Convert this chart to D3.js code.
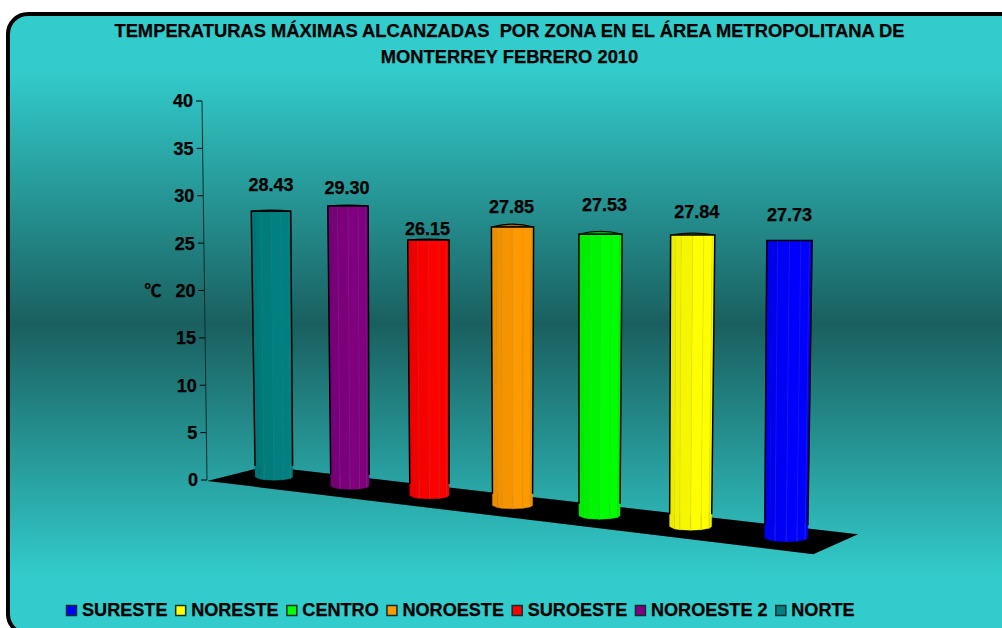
<!DOCTYPE html>
<meta charset="utf-8">
<style>
html, body { margin: 0; padding: 0; background: #fff; overflow: hidden; }
svg { display: block; }
text { font-family: "Liberation Sans", Arial, sans-serif; font-weight: bold; fill: #000; stroke: #000; stroke-width: 0.25px; }
.title { font-size: 18.35px; text-anchor: middle; white-space: pre; }
.axis text, .value { font-size: 18px; }
.legend text { font-size: 18.1px; }
.value { text-anchor: middle; }
</style>
<body>
<script src="https://d3js.org/d3.v7.min.js"></script>
<script>

// chart values, bars run back to front
var zones = ["NORTE", "NOROESTE 2", "SUROESTE", "NOROESTE", "CENTRO", "NORESTE", "SURESTE"];
var temps = [28.43, 29.30, 26.15, 27.85, 27.53, 27.84, 27.73];
var yTicks = [0, 5, 10, 15, 20, 25, 30, 35, 40];
var titleLines = ["TEMPERATURAS MÁXIMAS ALCANZADAS  POR ZONA EN EL ÁREA METROPOLITANA DE", "MONTERREY FEBRERO 2010"];

// styles and small layout nudges
var barColors = ["#008080", "#800080", "#FF0000", "#FF9900", "#00FF00", "#FFFF00", "#0000FF"];
var labelLift = [26, 18, 11, 20, 29, 23, 26];
var labelShift = [0, -1, -1, -1, 4, 4, 0];
var lidRise = [1, 1, 1, 3, 3, 2, 0];
var facetEdges = [0, 0.12, 0.24, 0.5, 0.75, 0.94, 1];
var facetDark = [0.22, 0.16, 0.1, 0, 0, 0.12];

var width = 1002, height = 628;

var svg = d3.select("body").append("svg")
    .attr("width", width)
    .attr("height", height);

// background gradient, light - dark - light
var grad = svg.append("defs").append("linearGradient")
    .attr("id", "bg")
    .attr("x1", 0).attr("y1", 0).attr("x2", 0).attr("y2", 1);
grad.append("stop").attr("offset", "0%").attr("stop-color", "#33CCCC");
grad.append("stop").attr("offset", "9%").attr("stop-color", "#33CCCC");
grad.append("stop").attr("offset", "50%").attr("stop-color", "#1A5F5F");
grad.append("stop").attr("offset", "91%").attr("stop-color", "#33CCCC");
grad.append("stop").attr("offset", "100%").attr("stop-color", "#33CCCC");

svg.append("rect")
    .attr("x", 8).attr("y", 14)
    .attr("width", 1040).attr("height", 620)
    .attr("rx", 20).attr("ry", 20)
    .attr("fill", "url(#bg)")
    .attr("stroke", "#000")
    .attr("stroke-width", 4);

// title
svg.selectAll(".title")
    .data(titleLines)
  .enter().append("text")
    .attr("class", "title")
    .attr("x", 509.5)
    .attr("y", function(d, i) { return 37 + i * 26; })
    .text(function(d) { return d; });

// value scale
var y = d3.scaleLinear().domain([0, 40]).range([480, 101]);

// the axis leans a little, top is further left
var axisLean = d3.scaleLinear().domain([0, 40]).range([207, 202]);

// floor perspective: i is the bar position, d the depth (1 front, -1 back)
var persp = -0.02136;
function project(i, d) {
  var w = 1 + persp * i;
  return [(271 + 69.55 * i - 22 * d) / w, (477 - 1.33 * i + 7.5 * d) / w];
}

var floor = [project(-0.52, 1.15), project(-0.37, -1), project(6.43, -1), project(6.53, 1.15)];
svg.append("path")
    .attr("d", d3.line()(floor) + "Z")
    .attr("fill", "#000");

// y axis, d3 draws it straight so move the ticks onto the leaning line
var axis = svg.append("g")
    .attr("class", "axis")
    .call(d3.axisLeft(y).tickValues(yTicks).tickSize(6).tickPadding(3).tickFormat(d3.format("d")));
axis.select(".domain").remove();
axis.selectAll(".tick")
    .attr("transform", function(d) { return "translate(" + axisLean(d) + "," + y(d) + ")"; });
axis.selectAll(".tick line").attr("stroke", "#000");
axis.selectAll(".tick text").attr("dy", "0.36em").attr("fill", "#000");
axis.append("line")
    .attr("x1", axisLean(0)).attr("y1", y(0))
    .attr("x2", axisLean(40)).attr("y2", y(40))
    .attr("stroke", "#0b2f2f");

svg.append("text")
    .attr("x", 153).attr("y", 297)
    .attr("text-anchor", "middle")
    .style("font-family", "'Noto Sans CJK JP', sans-serif")
    .style("font-size", "17px")
    .text("℃");

// bars, each one is a row of facets so it looks like a cylinder
var unit = (y(0) - y(1)) * 0.987;

var bars = svg.selectAll(".bar")
    .data(temps)
  .enter().append("g")
    .attr("class", "bar");

bars.each(function(v, i) {
  var g = d3.select(this);
  var s = 1 / (1 + persp * i);
  var p = project(i, 0);
  var topX = p[0];
  var baseX = topX - (topX - 515) * 0.012;
  var baseY = p[1];
  var topY = baseY - v * unit * s;
  var topW = 39.5 * s, baseW = 37.5 * s;
  var bulge = 3.2 * s;
  var color = barColors[i];
  var lineColor = d3.interpolateRgb(color, "#808080")(0.3);

  var xTop = function(f) { return topX - topW / 2 + f * topW; };
  var xBase = function(f) { return baseX - baseW / 2 + f * baseW; };
  var yBase = function(f) { return baseY + bulge * Math.sqrt(Math.max(0, 1 - (2 * f - 1) * (2 * f - 1))); };

  // lid
  g.append("path")
      .attr("d", "M" + xTop(0) + "," + topY +
        "Q" + topX + "," + (topY - 2 * lidRise[i]) + " " + xTop(1) + "," + topY + "Z")
      .attr("fill", d3.color(color).darker(1).toString())
      .attr("stroke", "#000")
      .attr("stroke-width", 1.2);

  // facets
  d3.range(facetEdges.length - 1).forEach(function(k) {
    var a = facetEdges[k], b = facetEdges[k + 1];
    g.append("path")
        .attr("d", d3.line()([[xTop(a), topY], [xTop(b), topY], [xBase(b), yBase(b)], [xBase(a), yBase(a)]]) + "Z")
        .attr("fill", d3.color(color).darker(facetDark[k]).toString())
        .attr("stroke", d3.color(color).darker(facetDark[k]).toString())
        .attr("stroke-width", 0.4);
  });

  // facet lines, stronger in the bottom band
  facetEdges.slice(2, -1).forEach(function(f) {
    g.append("line")
        .attr("x1", xTop(f)).attr("y1", topY)
        .attr("x2", xBase(f)).attr("y2", yBase(f))
        .attr("stroke", lineColor)
        .attr("stroke-opacity", 0.5)
        .attr("stroke-width", 1);
    g.append("line")
        .attr("x1", xBase(f)).attr("y1", yBase(f) - 14 * s)
        .attr("x2", xBase(f)).attr("y2", yBase(f))
        .attr("stroke", lineColor)
        .attr("stroke-opacity", 0.7)
        .attr("stroke-width", 1);
  });

  // outline on top and sides, it stops at the floor
  var cut = 11 * s;
  var cutF = cut / (baseY - topY);
  g.append("path")
      .attr("d", d3.line()([
        [xTop(0) + (xBase(0) - xTop(0)) * (1 - cutF), baseY - cut],
        [xTop(0), topY], [xTop(1), topY],
        [xTop(1) + (xBase(1) - xTop(1)) * (1 - cutF), baseY - cut]
      ]))
      .attr("fill", "none")
      .attr("stroke", "#000")
      .attr("stroke-width", 1.5);

  // value label
  svg.append("text")
      .attr("class", "value")
      .attr("x", topX + labelShift[i])
      .attr("y", topY - labelLift[i] + 6)
      .text(d3.format(".2f")(v));
});

// legend, reversed order, each item placed after the one before it
var legend = svg.append("g").attr("class", "legend");
var legendX = 66;
zones.slice().reverse().forEach(function(name, k) {
  legend.append("rect")
      .attr("x", legendX + 0.5).attr("y", 605.5)
      .attr("width", 10).attr("height", 10)
      .attr("fill", barColors[zones.length - 1 - k])
      .attr("stroke", "#0b2f2f")
      .attr("stroke-width", 1.5);
  var t = legend.append("text")
      .attr("x", legendX + 16).attr("y", 616)
      .text(name);
  legendX += 16 + t.node().getComputedTextLength() + 7.7;
});

</script>
</body>
